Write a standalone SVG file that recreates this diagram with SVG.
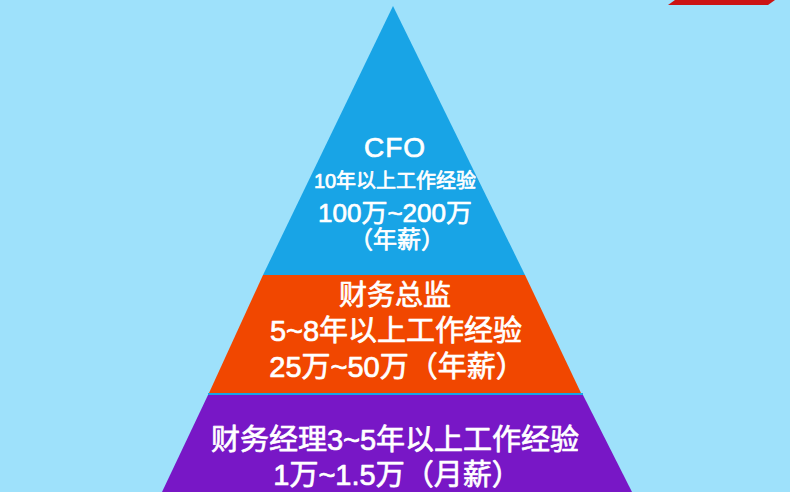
<svg xmlns="http://www.w3.org/2000/svg" width="790" height="492" viewBox="0 0 790 492">
<style>
.t{fill:#ffffff;stroke:#ffffff;stroke-width:0.7;stroke-linejoin:round;font-family:"Liberation Sans","Noto Sans CJK SC",sans-serif;text-anchor:middle;font-weight:normal}
</style>
<rect x="0" y="0" width="790" height="492" fill="#9ee1fb"/>
<polygon points="675,0 775,0 768,5 668,5" fill="#cc1414"/>
<g id="cfo">
<polygon points="393,6 525,275 263,275" fill="#18a4e6"/>
<text class="t" x="395" y="157" font-size="28" letter-spacing="1" stroke-width="0.3">CFO</text>
<text class="t" x="395" y="188" font-size="20" stroke-width="0.4">10年以上工作经验</text>
<text class="t" x="395" y="222" font-size="26" stroke-width="0.5">100万~200万</text>
<text class="t" x="397" y="248" font-size="24" stroke-width="0.5">（年薪）</text>
</g>
<g id="director">
<polygon points="263,275 525,275 581,393 209,393" fill="#f14700"/>
<text class="t" x="395" y="305" font-size="28">财务总监</text>
<text class="t" x="396" y="341" font-size="29">5~8年以上工作经验</text>
<text class="t" x="397" y="377" font-size="29">25万~50万（年薪）</text>
</g>
<rect x="208" y="393" width="375" height="2" fill="#18a4e6"/>
<g id="manager">
<polygon points="208,395 583,395 632,492 162,492" fill="#7817c6"/>
<text class="t" x="395" y="450" font-size="29">财务经理3~5年以上工作经验</text>
<text class="t" x="397" y="485" font-size="29">1万~1.5万（月薪）</text>
</g>
<g id="connectors"></g>
</svg>
